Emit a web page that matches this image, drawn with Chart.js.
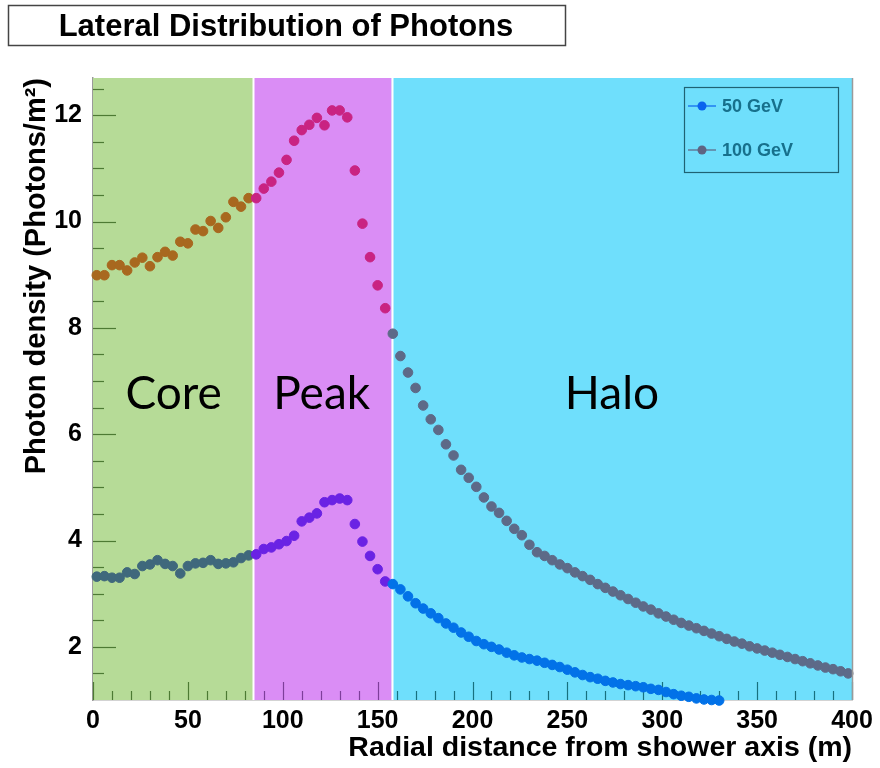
<!DOCTYPE html>
<html><head><meta charset="utf-8">
<script src="https://cdn.jsdelivr.net/npm/chart.js@4.4.1/dist/chart.umd.min.js"></script>
<style>html,body{margin:0;padding:0;background:#fff}canvas{display:block}</style>
</head><body>
<canvas id="c" width="880" height="768"></canvas>
<script>
// ---------------- data ----------------
const chartTitle = 'Lateral Distribution of Photons';
const xAxisTitle = 'Radial distance from shower axis (m)';
const yAxisTitle = 'Photon density (Photons/m\u00B2)';
const seriesNames = ['50 GeV', '100 GeV'];
const regionNames = ['Core', 'Peak', 'Halo'];
const regionEdges = [0, 84.5, 157.5, 400];
const xTicks = [0, 50, 100, 150, 200, 250, 300, 350, 400];
const yTicks = [2, 4, 6, 8, 10, 12];

const radius = [2,6,10,14,18,22,26,30,34,38,42,46,50,54,58,62,66,70,74,78,
  82,86,90,94,98,102,106,110,114,118,122,126,130,134,138,142,146,150,154,158,
  162,166,170,174,178,182,186,190,194,198,202,206,210,214,218,222,226,230,234,238,
  242,246,250,254,258,262,266,270,274,278,282,286,290,294,298,302,306,310,314,318,
  322,326,330,334,338,342,346,350,354,358,362,366,370,374,378,382,386,390,394,398];

const density100 = [8.99,8.99,9.18,9.18,9.08,9.23,9.32,9.16,9.33,9.43,
  9.36,9.62,9.59,9.85,9.82,10.01,9.88,10.08,10.37,10.28,
  10.44,10.44,10.62,10.75,10.92,11.16,11.52,11.72,11.82,11.95,
  11.81,12.09,12.09,11.96,10.96,9.96,9.33,8.80,8.37,7.89,
  7.47,7.16,6.87,6.54,6.28,6.08,5.81,5.60,5.33,5.18,
  5.01,4.81,4.64,4.52,4.37,4.22,4.10,3.92,3.78,3.71,
  3.63,3.55,3.48,3.40,3.33,3.26,3.18,3.11,3.04,2.97,
  2.90,2.83,2.76,2.70,2.63,2.57,2.51,2.45,2.40,2.35,
  2.30,2.25,2.20,2.15,2.10,2.06,2.01,1.97,1.93,1.89,
  1.85,1.81,1.77,1.73,1.69,1.65,1.61,1.58,1.54,1.50];

const density50 = [3.32,3.33,3.30,3.30,3.40,3.37,3.52,3.55,3.63,3.56,
  3.52,3.38,3.52,3.57,3.58,3.63,3.56,3.57,3.59,3.67,
  3.72,3.74,3.84,3.87,3.93,3.99,4.09,4.36,4.43,4.51,
  4.72,4.76,4.79,4.76,4.31,3.98,3.71,3.46,3.23,3.18,
  3.08,2.95,2.82,2.72,2.63,2.54,2.44,2.36,2.27,2.19,
  2.11,2.05,2.00,1.95,1.89,1.84,1.80,1.77,1.74,1.70,
  1.66,1.62,1.57,1.52,1.47,1.43,1.40,1.36,1.33,1.30,
  1.28,1.26,1.24,1.21,1.19,1.15,1.11,1.08,1.06,1.03,
  1.01,1.00,0.99];

// ---------------- styles ----------------
const FONT = "'Liberation Sans', Arial, Helvetica, sans-serif";
const regionFill = ['#b6db97', '#da8df5', '#6fdffc'];
const tickColor = ['#4d7a33', '#7e3e9a', '#17707f'];
const color50 = ['#3f687c', '#6a22e4', '#0272e8'];
const color100 = ['#a8681f', '#c92382', '#5d6a88'];
const legendColors = ['#0a64ee', '#5e6482'];

function regionIndex(v) {
  return v < regionEdges[1] ? 0 : (v < regionEdges[2] ? 1 : 2);
}
function pts(xs, ys) { return ys.map((v, i) => ({x: xs[i], y: v})); }

const decorPlugin = {
  id: 'decor',
  beforeDatasetsDraw(chart) {
    const {ctx, chartArea: a, scales: {x, y}} = chart;
    ctx.save();
    for (let i = 0; i < 3; i++) {
      const x0 = x.getPixelForValue(regionEdges[i]);
      const x1 = x.getPixelForValue(regionEdges[i + 1]);
      ctx.fillStyle = regionFill[i];
      ctx.fillRect(x0, a.top, x1 - x0, a.bottom - a.top);
    }
    ctx.strokeStyle = '#ffffff';
    ctx.lineWidth = 2;
    for (let i = 1; i < 3; i++) {
      const px = Math.round(x.getPixelForValue(regionEdges[i])) + 0.5;
      ctx.beginPath(); ctx.moveTo(px, a.top); ctx.lineTo(px, a.bottom); ctx.stroke();
    }
    ctx.lineWidth = 1.2;
    for (let v = 0; v <= 400; v += 10) {
      const px = Math.round(x.getPixelForValue(v)) + 0.5;
      const major = v % 50 === 0;
      ctx.strokeStyle = tickColor[regionIndex(v)];
      ctx.beginPath(); ctx.moveTo(px, a.bottom); ctx.lineTo(px, a.bottom - (major ? 18 : 9)); ctx.stroke();
    }
    ctx.strokeStyle = tickColor[0];
    for (let v = 1.5; v <= 12.6; v += 0.5) {
      const py = Math.round(y.getPixelForValue(v)) + 0.5;
      const major = Math.abs(v % 2) < 1e-9;
      ctx.beginPath(); ctx.moveTo(a.left, py); ctx.lineTo(a.left + (major ? 23 : 11), py); ctx.stroke();
    }
    const labelX = [42.5, 120.5, 273.5];
    ctx.fillStyle = '#000';
    ctx.font = "46px Lato, 'Open Sans', sans-serif";
    ctx.textAlign = 'center';
    ctx.textBaseline = 'alphabetic';
    for (let i = 0; i < 3; i++) {
      ctx.fillText(regionNames[i], x.getPixelForValue(labelX[i]), y.getPixelForValue(6.48));
    }
    ctx.restore();
  },
  afterDraw(chart) {
    const {ctx, chartArea: a} = chart;
    ctx.save();
    ctx.strokeStyle = '#9a9a9a';
    ctx.lineWidth = 1.5;
    ctx.beginPath(); ctx.moveTo(a.right + 0.5, a.top); ctx.lineTo(a.right + 0.5, a.bottom); ctx.stroke();
    ctx.fillStyle = '#fff';
    ctx.fillRect(8, 5, 557, 40);
    ctx.strokeStyle = '#444';
    ctx.lineWidth = 1.5;
    ctx.strokeRect(8.5, 5.5, 557, 40);
    ctx.fillStyle = '#000';
    ctx.font = 'bold 31px ' + FONT;
    ctx.textAlign = 'center';
    ctx.textBaseline = 'middle';
    ctx.fillText(chartTitle, 286, 27);
    ctx.strokeStyle = '#1f6273';
    ctx.lineWidth = 1.2;
    ctx.strokeRect(684.5, 87.5, 154, 85);
    const rows = [106, 150];
    for (let i = 0; i < 2; i++) {
      const yy = rows[i];
      ctx.strokeStyle = legendColors[i];
      ctx.lineWidth = 1.2;
      ctx.beginPath(); ctx.moveTo(688, yy); ctx.lineTo(716, yy); ctx.stroke();
      ctx.fillStyle = legendColors[i];
      ctx.beginPath(); ctx.arc(702, yy, 4.5, 0, Math.PI * 2); ctx.fill();
      ctx.fillStyle = '#17708c';
      ctx.font = 'bold 18px ' + FONT;
      ctx.textAlign = 'left';
      ctx.textBaseline = 'middle';
      ctx.fillText(seriesNames[i], 722, yy + 1);
    }
    ctx.restore();
  }
};

const ds = (label, ys, palette) => ({
  label,
  data: pts(radius, ys),
  showLine: false,
  pointRadius: 4.8,
  pointHoverRadius: 4.8,
  pointBorderWidth: 1,
  pointBackgroundColor: c => palette[regionIndex(c.raw.x)],
  pointBorderColor: c => palette[regionIndex(c.raw.x)],
  clip: false
});

new Chart(document.getElementById('c'), {
  type: 'scatter',
  data: {
    datasets: [
      ds(seriesNames[1], density100, color100),
      ds(seriesNames[0], density50, color50)
    ]
  },
  options: {
    responsive: false,
    animation: false,
    devicePixelRatio: 1,
    layout: {padding: {left: 0, top: 78, right: 28, bottom: 0}},
    plugins: {legend: {display: false}, tooltip: {enabled: false}, title: {display: false}},
    scales: {
      x: {
        type: 'linear', min: 0, max: 400,
        afterBuildTicks: s => { s.ticks = xTicks.map(v => ({value: v})); },
        afterFit: s => { s.height = 68; },
        grid: {display: false, drawTicks: false},
        border: {display: true, color: '#a8a8a8', width: 1.5},
        ticks: {color: '#000', padding: 6, maxRotation: 0, font: {family: FONT, size: 25, weight: 'bold'}},
        title: {display: true, text: xAxisTitle, align: 'end', color: '#000',
                padding: {top: 0, bottom: 3}, font: {family: FONT, size: 28.5, weight: 'bold'}}
      },
      y: {
        type: 'linear', min: 1, max: 12.7,
        afterBuildTicks: s => { s.ticks = yTicks.map(v => ({value: v})); },
        afterFit: s => { s.width = 93; },
        grid: {display: false, drawTicks: false},
        border: {display: true, color: '#9a9a9a', width: 1.5},
        ticks: {color: '#000', padding: 11, font: {family: FONT, size: 25, weight: 'bold'}},
        title: {display: true, text: yAxisTitle, align: 'end', color: '#000',
                padding: {top: 20, bottom: 0}, font: {family: FONT, size: 29, weight: 'bold'}}
      }
    }
  },
  plugins: [decorPlugin]
});
</script>
</body></html>
